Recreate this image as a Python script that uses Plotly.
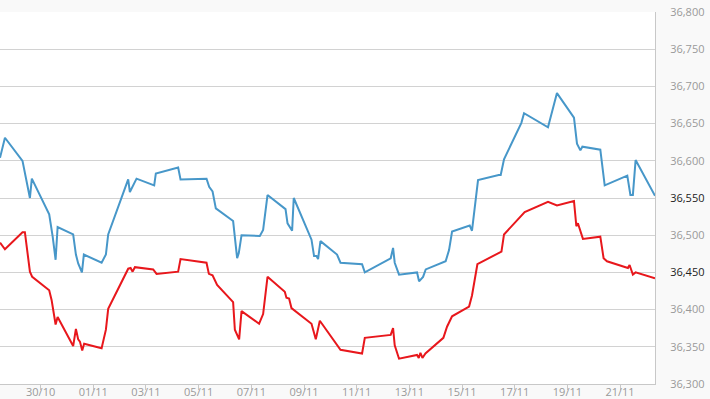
import plotly.graph_objects as go

# Blue series (sell)
blue_time = [
    "2017-10-28 11:00", "2017-10-28 15:30", "2017-10-29 07:30", "2017-10-29 14:15", "2017-10-29 16:00",
    "2017-10-30 07:50", "2017-10-30 11:00", "2017-10-30 13:40", "2017-10-30 15:30",
    "2017-10-31 05:40", "2017-10-31 08:10", "2017-10-31 10:15", "2017-10-31 13:40", "2017-10-31 15:25",
    "2017-11-01 07:35", "2017-11-01 11:30", "2017-11-01 13:35",
    "2017-11-02 07:48", "2017-11-02 09:20", "2017-11-02 15:25",
    "2017-11-03 07:30", "2017-11-03 09:00",
    "2017-11-04 05:20", "2017-11-04 07:30",
    "2017-11-05 07:12", "2017-11-05 09:35", "2017-11-05 12:40", "2017-11-05 15:40",
    "2017-11-06 07:25", "2017-11-06 11:05", "2017-11-06 12:35", "2017-11-06 15:05",
    "2017-11-07 07:45", "2017-11-07 10:45", "2017-11-07 14:45",
    "2017-11-08 07:10", "2017-11-08 09:00", "2017-11-08 13:10", "2017-11-08 14:40",
    "2017-11-09 06:50", "2017-11-09 09:10", "2017-11-09 11:25", "2017-11-09 12:50", "2017-11-09 15:00",
    "2017-11-10 06:05", "2017-11-10 09:15",
    "2017-11-11 04:55", "2017-11-11 07:25",
    "2017-11-12 07:00", "2017-11-12 09:10", "2017-11-12 10:40", "2017-11-12 14:35",
    "2017-11-13 07:00", "2017-11-13 08:50", "2017-11-13 12:30", "2017-11-13 14:55",
    "2017-11-14 09:05", "2017-11-14 12:10", "2017-11-14 14:55",
    "2017-11-15 07:00", "2017-11-15 09:05", "2017-11-15 14:35",
    "2017-11-16 09:25", "2017-11-16 11:15", "2017-11-16 14:15",
    "2017-11-17 06:05", "2017-11-17 08:30",
    "2017-11-18 06:20", "2017-11-18 14:30",
    "2017-11-19 06:00", "2017-11-19 08:45", "2017-11-19 11:50", "2017-11-19 13:40",
    "2017-11-20 06:00", "2017-11-20 10:00", "2017-11-20 13:00",
    "2017-11-21 06:35", "2017-11-21 09:25", "2017-11-21 11:40", "2017-11-21 14:10",
    "2017-11-22 07:50",
]
blue_value = [
    36604, 36631, 36600, 36550, 36576,
    36528, 36498, 36467, 36511,
    36501, 36474, 36462, 36450, 36474,
    36463, 36474, 36501,
    36575, 36558, 36576,
    36567, 36583,
    36591, 36575,
    36576, 36565, 36559, 36536,
    36519, 36469, 36476, 36500,
    36499, 36507, 36554,
    36535, 36516, 36506, 36550,
    36494, 36472, 36472, 36468, 36492,
    36474, 36463,
    36461, 36450,
    36469, 36483, 36463, 36447,
    36450, 36438, 36444, 36454,
    36465, 36480, 36505,
    36513, 36506, 36574,
    36581, 36581, 36602,
    36651, 36664,
    36645, 36691,
    36658, 36623, 36614, 36619,
    36615, 36567, 36569,
    36580, 36554, 36554, 36601,
    36553,
]

# Red series (buy)
red_time = [
    "2017-10-28 11:00", "2017-10-28 15:30", "2017-10-29 07:30", "2017-10-29 09:40", "2017-10-29 14:15", "2017-10-29 16:20",
    "2017-10-30 07:50", "2017-10-30 10:00", "2017-10-30 13:40", "2017-10-30 15:30",
    "2017-10-31 05:40", "2017-10-31 08:10", "2017-10-31 10:15", "2017-10-31 11:50", "2017-10-31 13:55", "2017-10-31 15:40",
    "2017-11-01 07:35", "2017-11-01 11:30", "2017-11-01 13:35",
    "2017-11-02 07:50", "2017-11-02 10:00", "2017-11-02 11:50", "2017-11-02 13:55",
    "2017-11-03 06:35", "2017-11-03 09:40",
    "2017-11-04 05:20", "2017-11-04 07:30",
    "2017-11-05 07:10", "2017-11-05 09:20", "2017-11-05 12:40", "2017-11-05 16:50",
    "2017-11-06 07:25", "2017-11-06 09:00", "2017-11-06 11:05", "2017-11-06 12:55", "2017-11-06 15:05",
    "2017-11-07 07:05", "2017-11-07 10:45", "2017-11-07 14:45",
    "2017-11-08 06:30", "2017-11-08 08:00", "2017-11-08 10:25", "2017-11-08 12:35",
    "2017-11-09 06:50", "2017-11-09 08:20", "2017-11-09 10:45", "2017-11-09 14:25",
    "2017-11-10 09:15",
    "2017-11-11 04:55", "2017-11-11 07:25",
    "2017-11-12 07:00", "2017-11-12 09:10", "2017-11-12 10:40", "2017-11-12 14:35",
    "2017-11-13 07:00", "2017-11-13 08:35", "2017-11-13 10:05", "2017-11-13 11:55", "2017-11-13 14:40",
    "2017-11-14 07:00", "2017-11-14 10:20", "2017-11-14 14:55",
    "2017-11-15 06:25", "2017-11-15 09:05", "2017-11-15 14:00",
    "2017-11-16 08:50", "2017-11-16 11:55", "2017-11-16 14:15",
    "2017-11-17 06:05", "2017-11-17 09:05",
    "2017-11-18 06:20", "2017-11-18 14:30",
    "2017-11-19 06:00", "2017-11-19 08:10", "2017-11-19 09:35", "2017-11-19 14:10",
    "2017-11-20 06:00", "2017-11-20 09:00", "2017-11-20 12:05",
    "2017-11-21 07:10", "2017-11-21 08:40", "2017-11-21 11:40", "2017-11-21 14:10",
    "2017-11-22 07:50",
]
red_value = [
    36490, 36481, 36504, 36504, 36451, 36444,
    36426, 36413, 36380, 36390,
    36351, 36374, 36360, 36357, 36345, 36354,
    36348, 36373, 36401,
    36455, 36456, 36451, 36457,
    36454, 36448,
    36451, 36468,
    36463, 36448, 36446, 36433,
    36410, 36373, 36367, 36360, 36398,
    36381, 36394, 36444,
    36424, 36416, 36415, 36402,
    36381, 36373, 36360, 36385,
    36346,
    36341, 36362,
    36366, 36375, 36352, 36334,
    36339, 36335, 36342, 36335, 36341,
    36362, 36377, 36391,
    36404, 36419, 36461,
    36475, 36478, 36501,
    36525, 36531,
    36545, 36540,
    36546, 36512, 36516, 36495,
    36498, 36469, 36465,
    36456, 36460, 36447, 36450,
    36442,
]

y_tick_values = [36300, 36350, 36400, 36450, 36500, 36550, 36600, 36650, 36700, 36750, 36800]
y_tick_labels = ["36,300", "36,350", "36,400", "36,450", "36,500", "36,550",
                 "36,600", "36,650", "36,700", "36,750", "36,800"]
highlighted_labels = ["36,550", "36,450"]

ticktext = [
    f'<span style="color:#222222">{t}</span>' if t in highlighted_labels else t
    for t in y_tick_labels
]

fig = go.Figure()
fig.add_trace(go.Scatter(x=blue_time, y=blue_value, mode="lines",
                         line=dict(color="#4797c9", width=2), name="Bán"))
fig.add_trace(go.Scatter(x=red_time, y=red_value, mode="lines",
                         line=dict(color="#e8171c", width=2), name="Mua"))

fig.update_layout(
    width=710, height=399,
    margin=dict(l=0, r=55, t=12, b=15, autoexpand=False),
    paper_bgcolor="#f9f9f9",
    plot_bgcolor="#ffffff",
    showlegend=False,
    font=dict(family="Open Sans, sans-serif", size=11, color="#999999"),
)
fig.update_xaxes(
    type="date",
    range=[blue_time[0], blue_time[-1]],
    tick0="2017-10-28", dtick=2 * 86400000,
    tickformat="%d/%m",
    showgrid=False, zeroline=False,
    showline=True, linecolor="#c8c8c8", linewidth=1,
    ticks="outside", ticklen=5, tickcolor="#c8c8c8",
    ticklabelstandoff=-7,
    tickfont=dict(size=11, color="#999999"),
)
fig.update_yaxes(
    side="right",
    range=[36300, 36800],
    tickvals=y_tick_values, ticktext=ticktext,
    showgrid=True, gridcolor="#d2d2d2", gridwidth=1,
    zeroline=False,
    showline=True, linecolor="#c8c8c8", linewidth=1,
    ticks="", ticklabelstandoff=12,
    tickfont=dict(size=11, color="#999999"),
)

fig.write_html("out.html", config={"displayModeBar": False},
               post_script="document.body.style.margin='0';")
